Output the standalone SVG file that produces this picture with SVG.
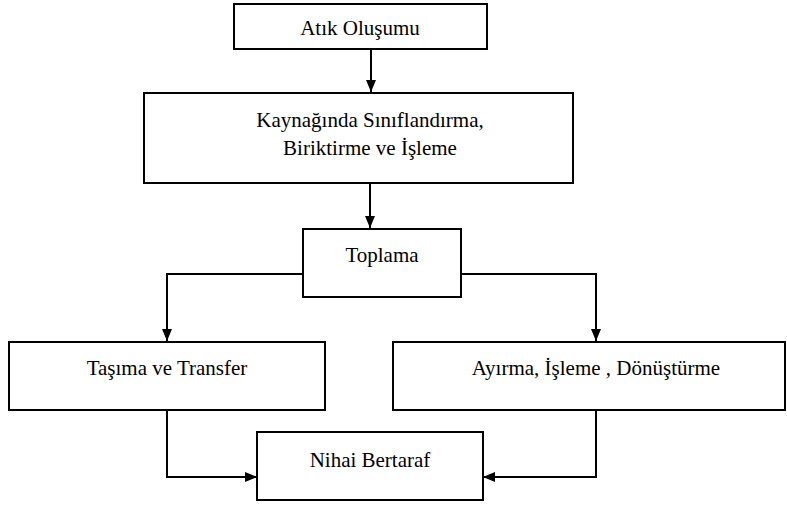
<svg xmlns="http://www.w3.org/2000/svg" width="787" height="505" viewBox="0 0 787 505">
<style>
.box{fill:#fff;stroke:#000;stroke-width:2}
.con{fill:none;stroke:#000;stroke-width:2}
text{font-family:"Liberation Serif","Times New Roman",serif;font-size:21px;text-anchor:middle;fill:#000}
</style>
<defs>
<marker id="arr" markerWidth="12" markerHeight="10" refX="12" refY="5" orient="auto" markerUnits="userSpaceOnUse">
<path d="M0,0 L12,5 L0,10 Z" fill="#000"/>
</marker>
</defs>
<g id="connectors">
<path class="con" d="M371,49 V92" marker-end="url(#arr)"/>
<path class="con" d="M370,183 V228" marker-end="url(#arr)"/>
<path class="con" d="M303,274 H167 V341" marker-end="url(#arr)"/>
<path class="con" d="M461,274 H596 V341" marker-end="url(#arr)"/>
<path class="con" d="M167,410 V477 H257" marker-end="url(#arr)"/>
<path class="con" d="M596,410 V477 H483" marker-end="url(#arr)"/>
</g>
<g id="n1"><rect class="box" x="234" y="4" width="253" height="45"/><text x="360" y="35">Atık Oluşumu</text></g>
<g id="n2"><rect class="box" x="144" y="93" width="429" height="90"/><text x="370" y="127">Kaynağında Sınıflandırma,</text><text x="370" y="155">Biriktirme ve İşleme</text></g>
<g id="n3"><rect class="box" x="303" y="229" width="158" height="68"/><text x="382" y="262">Toplama</text></g>
<g id="n4"><rect class="box" x="9" y="342" width="316" height="68"/><text x="167" y="375">Taşıma ve Transfer</text></g>
<g id="n5"><rect class="box" x="393" y="342" width="392" height="68"/><text x="596" y="375">Ayırma, İşleme , Dönüştürme</text></g>
<g id="n6"><rect class="box" x="257" y="432" width="226" height="68"/><text x="370" y="467">Nihai Bertaraf</text></g>
</svg>
